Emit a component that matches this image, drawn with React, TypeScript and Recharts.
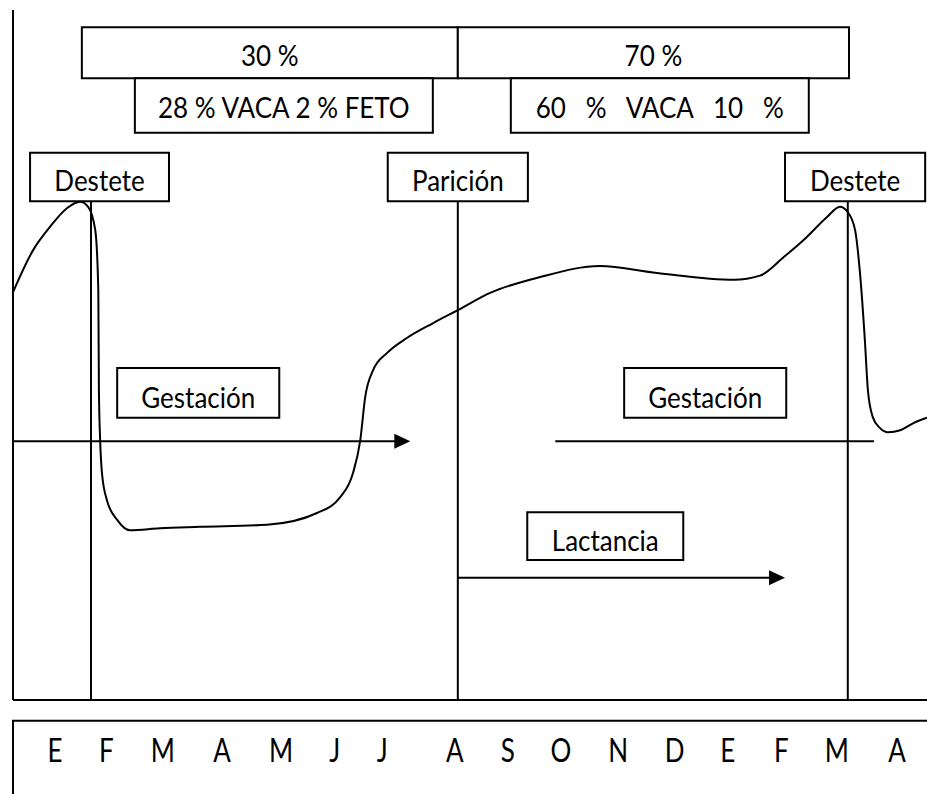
import React from 'react';
import { ComposedChart, Line, XAxis, YAxis, ReferenceArea, ReferenceLine } from 'recharts';

// Body condition curve (time in month units, condition score 0-10)
const curveT = [0, 0.33, 0.61, 0.89, 1.10, 1.23, 1.35, 1.40, 1.41, 1.43, 1.46, 1.54, 1.71, 1.92, 2.41, 3.07, 4.17, 4.99, 5.37, 5.58, 5.70, 5.78, 5.91, 6.14, 6.47, 6.89, 7.30, 7.83, 8.65, 9.63, 10.57, 11.83, 12.26, 12.65, 12.98, 13.36, 13.57, 13.70, 13.82, 13.90, 13.98, 14.03, 14.11, 14.23, 14.36, 14.56, 14.77, 15.0];
const curveScore = [5.91, 6.52, 6.86, 7.13, 7.22, 7.15, 6.81, 5.94, 4.49, 3.77, 3.29, 2.90, 2.61, 2.46, 2.49, 2.51, 2.54, 2.71, 2.94, 3.29, 3.77, 4.39, 4.78, 5.03, 5.25, 5.46, 5.65, 5.90, 6.13, 6.29, 6.19, 6.09, 6.15, 6.42, 6.67, 7.00, 7.15, 7.07, 6.81, 6.19, 5.22, 4.49, 4.10, 3.94, 3.88, 3.91, 4.01, 4.09];

// Month axis
const monthLabels = ['E', 'F', 'M', 'A', 'M', 'J', 'J', 'A', 'S', 'O', 'N', 'D', 'E', 'F', 'M', 'A'];
const monthPos = [0.69, 1.53, 2.46, 3.43, 4.40, 5.28, 6.06, 7.25, 8.12, 8.99, 9.93, 10.86, 11.73, 12.61, 13.52, 14.51];

// Events
const eventLabels = ['Destete', 'Parición', 'Destete'];
const eventTime = [1.28, 7.30, 13.70];
const eventStart = [0.28, 6.15, 12.67];
const eventEnd = [2.56, 8.45, 14.97];

// Share of requirements
const shareLabels = ['30 %', '70 %'];
const shareStart = [1.13, 7.30];
const shareEnd = [7.30, 13.72];
const splitLabels = ['28 % VACA 2 % FETO', '60\u00a0\u00a0\u00a0%\u00a0\u00a0\u00a0VACA\u00a0\u00a0\u00a010\u00a0\u00a0\u00a0%'];
const splitStart = [2.00, 8.17];
const splitEnd = [6.89, 13.06];

// Phases
const phaseLabels = ['Gestación', 'Gestación', 'Lactancia'];
const phaseStart = [0, 8.90, 7.30];
const phaseEnd = [6.52, 14.13, 12.67];
const phaseLevel = [3.75, 3.75, 1.77];
const phaseArrow = [true, false, true];
const phaseBoxStart = [1.71, 10.03, 8.44];
const phaseBoxEnd = [4.37, 12.69, 11.0];
const phaseBoxTop = [4.81, 4.81, 2.72];
const phaseBoxBottom = [4.09, 4.09, 2.03];

const data = curveT.map((t, i) => ({ t, v: curveScore[i] }));

const FONT = "Lato, 'Open Sans', sans-serif";
const FS = 26;
const SY = 1.08;
const CAP = FS * 0.7165 * SY;

const StretchText = ({ x, y, text, fs, sy }: any) => (
  <text
    transform={`translate(${x},${y}) scale(1,${sy})`}
    textAnchor="middle"
    fontFamily={FONT}
    fontSize={fs}
    fill="#000"
    style={{ whiteSpace: 'pre' }}
  >
    {text}
  </text>
);

const boxLabel = (text: string, dy = 2) => (props: any) => {
  const vb = props.viewBox || {};
  const cx = vb.x + vb.width / 2;
  const cy = vb.y + vb.height / 2 + CAP / 2 + dy;
  return <StretchText x={cx} y={cy} text={text} fs={FS} sy={SY} />;
};

const arrowShape = (head: boolean) => (p: any) => {
  const { x1, y1, x2, y2 } = p;
  return (
    <g>
      <line x1={x1} y1={y1} x2={head ? x2 - 12 : x2} y2={y2} stroke="#000" strokeWidth={2} />
      {head && (
        <polygon points={`${x2},${y2} ${x2 - 16},${y2 - 7.5} ${x2 - 16},${y2 + 7.5}`} fill="#000" />
      )}
    </g>
  );
};

const MonthTick = (props: any) => {
  const { x, index } = props;
  return <StretchText x={x} y={762} text={monthLabels[index]} fs={26} sy={1.24} />;
};

const boxStyle = { fill: '#fff', fillOpacity: 1, stroke: '#000', strokeWidth: 2 };

export default function App() {
  return (
    <div style={{ position: 'absolute', left: 0, top: 0, width: 927, height: 794, background: '#fff' }}>
      <ComposedChart width={927} height={794} data={data} margin={{ top: 10, right: 0, bottom: 93, left: 12 }}>
        <XAxis
          dataKey="t"
          type="number"
          domain={[0, 15]}
          allowDataOverflow
          ticks={monthPos}
          interval={0}
          height={1}
          tickLine={false}
          axisLine={{ stroke: '#000', strokeWidth: 2 }}
          tick={<MonthTick />}
        />
        <YAxis
          type="number"
          domain={[0, 10]}
          allowDataOverflow
          width={1}
          tick={false}
          tickLine={false}
          axisLine={{ stroke: '#000', strokeWidth: 2 }}
        />
        {/* month box */}
        <ReferenceArea x1={0} x2={15.3} y1={-0.3} y2={-1.7} ifOverflow="visible" fill="none" stroke="#000" strokeWidth={2} />

        {eventTime.map((t, i) => (
          <ReferenceLine
            key={'ev' + i}
            segment={[{ x: t, y: 0 }, { x: t, y: 7.23 }]}
            stroke="#000"
            strokeWidth={2}
            ifOverflow="visible"
          />
        ))}

        {phaseLabels.map((_, i) => (
          <ReferenceLine
            key={'ph' + i}
            segment={[{ x: phaseStart[i], y: phaseLevel[i] }, { x: phaseEnd[i], y: phaseLevel[i] }]}
            ifOverflow="visible"
            shape={arrowShape(phaseArrow[i])}
          />
        ))}

        <Line type="monotone" dataKey="v" stroke="#000" strokeWidth={2} dot={false} activeDot={false} isAnimationActive={false} />

        {shareLabels.map((lab, i) => (
          <ReferenceArea key={'sh' + i} x1={shareStart[i]} x2={shareEnd[i]} y1={9.01} y2={9.75} ifOverflow="visible" {...boxStyle} label={boxLabel(lab, 3)} />
        ))}
        {splitLabels.map((lab, i) => (
          <ReferenceArea key={'sp' + i} x1={splitStart[i]} x2={splitEnd[i]} y1={8.22} y2={9.01} ifOverflow="visible" {...boxStyle} label={boxLabel(lab, 2)} />
        ))}
        {eventLabels.map((lab, i) => (
          <ReferenceArea key={'eb' + i} x1={eventStart[i]} x2={eventEnd[i]} y1={7.23} y2={7.93} ifOverflow="visible" {...boxStyle} label={boxLabel(lab, 4)} />
        ))}
        {phaseLabels.map((lab, i) => (
          <ReferenceArea key={'pb' + i} x1={phaseBoxStart[i]} x2={phaseBoxEnd[i]} y1={phaseBoxBottom[i]} y2={phaseBoxTop[i]} ifOverflow="visible" {...boxStyle} label={boxLabel(lab, 5)} />
        ))}
      </ComposedChart>
    </div>
  );
}
